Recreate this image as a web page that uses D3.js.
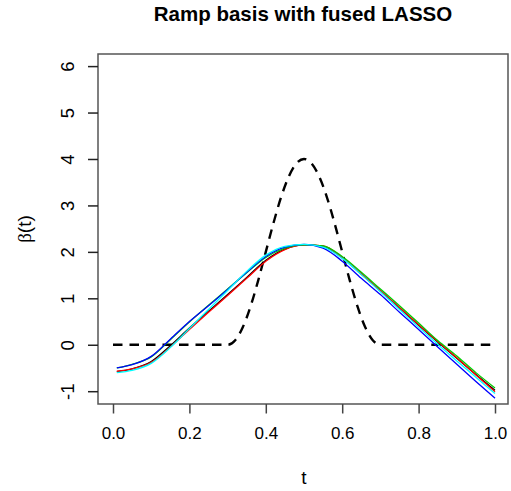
<!DOCTYPE html>
<html>
<head>
<meta charset="utf-8">
<script src="https://cdn.jsdelivr.net/npm/d3@7"></script>
<style>
  html, body { margin: 0; padding: 0; background: #fff; }
  svg { display: block; }
  text { font-family: "Liberation Sans", Arial, sans-serif; fill: #000; }
</style>
</head>
<body>
<svg id="chart" width="511" height="491"></svg>
<script>
// Evaluation grid for the estimated coefficient functions
const tGrid = [0.01, 0.05, 0.10, 0.15, 0.20, 0.25, 0.30, 0.35, 0.40, 0.45, 0.50,
               0.55, 0.60, 0.65, 0.70, 0.75, 0.80, 0.85, 0.90, 0.95, 1.00];

// Estimated beta(t), one curve per replicate
const estBlack = [-0.58, -0.52, -0.36, -0.02, 0.36, 0.72, 1.08, 1.45, 1.82, 2.06, 2.15,
                  2.12, 1.87, 1.52, 1.16, 0.79, 0.42, 0.06, -0.29, -0.64, -0.98];
const estRed   = [-0.57, -0.52, -0.38, -0.05, 0.33, 0.70, 1.06, 1.43, 1.80, 2.05, 2.15,
                  2.13, 1.88, 1.53, 1.17, 0.80, 0.43, 0.07, -0.28, -0.65, -1.01];
const estGreen = [-0.50, -0.42, -0.26, 0.11, 0.49, 0.85, 1.20, 1.55, 1.88, 2.08, 2.15,
                  2.13, 1.90, 1.56, 1.20, 0.84, 0.47, 0.09, -0.24, -0.60, -0.93];
const estBlue  = [-0.50, -0.43, -0.25, 0.12, 0.50, 0.84, 1.19, 1.56, 1.90, 2.10, 2.16,
                  2.08, 1.80, 1.43, 1.08, 0.70, 0.33, -0.05, -0.42, -0.79, -1.15];
const estCyan  = [-0.60, -0.55, -0.40, -0.06, 0.35, 0.76, 1.17, 1.58, 1.93, 2.12, 2.16,
                  2.10, 1.86, 1.51, 1.14, 0.76, 0.38, 0.01, -0.35, -0.70, -1.05];

const seriesColors = ["black", "red", "#00CD00", "blue", "cyan"];
const seriesValues = [estBlack, estRed, estGreen, estBlue, estCyan];

// True coefficient function (dashed)
const trueT = [0.00, 0.30, 0.32, 0.34, 0.36, 0.38, 0.40, 0.42, 0.44, 0.46, 0.48, 0.50,
               0.52, 0.54, 0.56, 0.58, 0.60, 0.62, 0.64, 0.66, 0.68, 0.70, 1.00];
const trueBeta = [0, 0, 0.098, 0.382, 0.824, 1.382, 2.0, 2.618, 3.176, 3.618, 3.902, 4.0,
                  3.902, 3.618, 3.176, 2.618, 2.0, 1.382, 0.824, 0.382, 0.098, 0, 0];

const xTicks = [0.0, 0.2, 0.4, 0.6, 0.8, 1.0];
const yTicks = [-1, 0, 1, 2, 3, 4, 5, 6];

const titleText = "Ramp basis with fused LASSO";
const xLabel = "t";

const svg = d3.select("#chart");

const x = d3.scaleLinear().domain([0, 1]).range([113, 495]);
const y = d3.scaleLinear().domain([-1, 6]).range([391.2, 66.1]);

// plot frame
const box = { left: 98, right: 508, top: 54, bottom: 404 };

const line = d3.line()
  .x(d => x(d[0]))
  .y(d => y(d[1]))
  .curve(d3.curveMonotoneX);

// true function, dashed
svg.append("path")
  .attr("d", line(trueT.map((t, i) => [t, trueBeta[i]])))
  .attr("fill", "none")
  .attr("stroke", "#000")
  .attr("stroke-width", 2.4)
  .attr("stroke-dasharray", "9.5,7");

// estimates
seriesValues.forEach((vals, k) => {
  svg.append("path")
    .attr("d", line(tGrid.map((t, i) => [t, vals[i]])))
    .attr("fill", "none")
    .attr("stroke", seriesColors[k])
    .attr("stroke-width", 1.3);
});

// frame
svg.append("rect")
  .attr("x", box.left).attr("y", box.top)
  .attr("width", box.right - box.left).attr("height", box.bottom - box.top)
  .attr("fill", "none").attr("stroke", "#555").attr("stroke-width", 1.5);

// x axis
const xAxis = d3.axisBottom(x)
  .tickValues(xTicks)
  .tickSize(9.5)
  .tickPadding(13)
  .tickFormat(d3.format(".1f"));
const gx = svg.append("g").attr("transform", `translate(0,${box.bottom})`).call(xAxis);
gx.select(".domain").remove();
gx.selectAll(".tick line").attr("stroke", "#444").attr("stroke-width", 1.5);
gx.selectAll(".tick text")
  .attr("font-size", 17)
  .attr("font-family", "Liberation Sans, Arial, sans-serif")
  .attr("fill", "#000");

// y axis with rotated labels
const yAxis = d3.axisLeft(y)
  .tickValues(yTicks)
  .tickSize(10)
  .tickFormat(d3.format("d"));
const gy = svg.append("g").attr("transform", `translate(${box.left},0)`).call(yAxis);
gy.select(".domain").remove();
gy.selectAll(".tick line").attr("stroke", "#222").attr("stroke-width", 1.5);
gy.selectAll(".tick text")
  .attr("x", null).attr("dy", null)
  .attr("text-anchor", "middle")
  .attr("transform", "translate(-24,0) rotate(-90)")
  .attr("font-size", 18.5)
  .attr("font-family", "Liberation Sans, Arial, sans-serif")
  .attr("fill", "#000")
  .text(d => d3.format("d")(d).replace("\u2212", "-"));

// title
svg.append("text")
  .attr("x", 303).attr("y", 21)
  .attr("text-anchor", "middle")
  .attr("font-size", 20.5)
  .attr("font-weight", "bold")
  .text(titleText);

// x label
svg.append("text")
  .attr("x", 304).attr("y", 484)
  .attr("text-anchor", "middle")
  .attr("font-size", 19)
  .text(xLabel);

// y label: beta(t)
const yl = svg.append("text")
  .attr("transform", "translate(31,229) rotate(-90)")
  .attr("text-anchor", "middle")
  .attr("font-size", 19);
yl.append("tspan").attr("font-family", "Liberation Serif, DejaVu Serif, serif").text("\u03B2");
yl.append("tspan").text("(t)");
</script>
</body>
</html>
